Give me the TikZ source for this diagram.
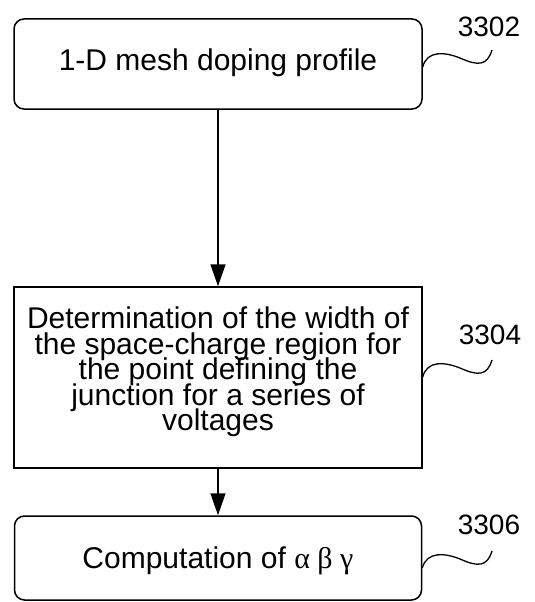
\documentclass[tikz,border=0pt]{standalone}
\usepackage{fontspec}
\setmainfont{Liberation Sans}
\newfontfamily\greekfont{Liberation Serif}
\usetikzlibrary{arrows.meta}

\begin{document}
\begin{tikzpicture}[x=1pt, y=-1pt, line width=1.5pt]
        \useasboundingbox (0,0) rectangle (535,602);

        % Top box
        \node[draw, rounded corners=10pt, minimum width=408pt, minimum height=90pt] (mesh) at (218,64) {};
        \node[font=\fontsize{30}{25}\selectfont] (meshtxt) at (218,63) {1-D mesh doping profile};

        % Middle box
        \node[draw, minimum width=408pt, minimum height=181pt] (width) at (218,377.5) {};
        \node[align=center, font={\fontsize{30}{25.5}\selectfont\lineskiplimit=-100pt}] (widthtxt) at (218,372) {
            Determination of the width of\\
            the space-charge region for\\
            the point defining the\\
            junction for a series of\\
            voltages
        };

        % Bottom box
        \node[draw, rounded corners=10pt, minimum width=407pt, minimum height=84pt] (coef) at (218,558) {};
        \node[font=\fontsize{30}{25}\selectfont] (coeftxt) at (218,561) {Computation of {\greekfont α β γ}};

        % Reference numbers
        \node[font=\fontsize{28}{30}\selectfont] (ref1) at (489,27) {3302};
        \node[font=\fontsize{28}{30}\selectfont] (ref2) at (490,335) {3304};
        \node[font=\fontsize{28}{30}\selectfont] (ref3) at (489,525) {3306};

        % Leaders
        \draw[line width=1.3pt] (mesh.east |- 0,67) .. controls (427,50) and (445,52) .. (460,58) .. controls (478,66) and (487,66) .. (492,50);
        \draw[line width=1.3pt] (width.east |- 0,377) .. controls (427,360) and (445,362) .. (460,368) .. controls (478,376) and (487,376) .. (492,360);
        \draw[line width=1.3pt] (coef.east |- 0,568) .. controls (427,551) and (445,553) .. (460,559) .. controls (478,567) and (487,567) .. (492,551);

        % Arrows
        \draw[-{Triangle[length=22pt,width=15pt]}] (mesh) -- (width);
        \draw[-{Triangle[length=22pt,width=15pt]}] (width) -- (coef);
    \end{tikzpicture}
\end{document}
